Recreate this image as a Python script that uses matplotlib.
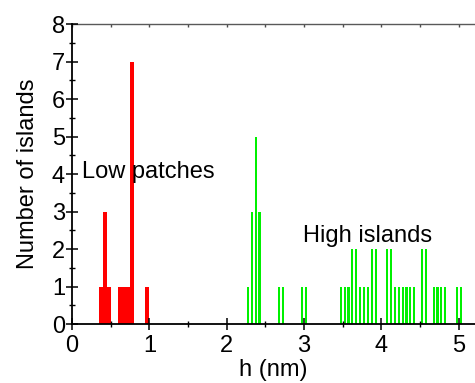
import numpy as np
import matplotlib
matplotlib.use('Agg')
import matplotlib.pyplot as plt
from matplotlib.ticker import MultipleLocator

# histogram bins (0.05 nm wide), given by bin centre and count
low_h   = [0.375, 0.425, 0.475, 0.625, 0.675, 0.725, 0.775, 0.975]
low_n   = [1, 3, 1, 1, 1, 1, 7, 1]
high_h  = [2.275, 2.325, 2.375, 2.425, 2.675, 2.725, 2.975, 3.025,
           3.475, 3.525, 3.575, 3.625, 3.675, 3.725, 3.775, 3.825, 3.875, 3.925,
           4.075, 4.125, 4.175, 4.225, 4.275, 4.325, 4.375, 4.425,
           4.525, 4.575, 4.675, 4.725, 4.775, 4.825, 4.975, 5.025]
high_n  = [1, 3, 5, 3, 1, 1, 1, 1,
           1, 1, 1, 2, 2, 1, 1, 1, 2, 2,
           2, 2, 1, 1, 1, 1, 1, 1,
           2, 2, 1, 1, 1, 1, 1, 1]
BIN = 0.05

plt.rcParams['font.family'] = ['Liberation Sans', 'DejaVu Sans']
fig = plt.figure(figsize=(4.75, 3.83), dpi=100)
ax = fig.add_axes([0.1516, 0.154, 0.8484, 0.783])

ax.bar(low_h, low_n, width=BIN, color='#ff0000', linewidth=0)
ax.bar(high_h, high_n, width=0.028, color='#00f000', linewidth=0)

ax.set_xlim(0, 5.21)
ax.set_ylim(0, 8)
ax.xaxis.set_major_locator(MultipleLocator(1))
ax.xaxis.set_minor_locator(MultipleLocator(0.5))
ax.yaxis.set_major_locator(MultipleLocator(1))
ax.yaxis.set_minor_locator(MultipleLocator(0.5))

ax.spines['right'].set_visible(False)
ax.spines['top'].set_visible(False)
for s in ('left', 'bottom'):
    ax.spines[s].set_linewidth(1.3)

ax.tick_params(which='major', direction='inout', length=8, width=1.1,
               labelsize=17, pad=1)
ax.tick_params(which='minor', direction='inout', length=5, width=1.0)
ax.tick_params(axis='x', which='major', pad=4)

# faint top frame with small inward ticks every 0.5
top = ax.secondary_xaxis('top')
top.set_xticks(np.arange(0, 5.5, 0.5))
top.tick_params(direction='in', length=2, width=1.0, colors='0.3', labeltop=False)
top.spines['top'].set_color('0.35')
top.spines['top'].set_linewidth(1.0)

ax.set_xlabel('h (nm)', fontsize=17, labelpad=1)
ax.set_ylabel('Number of islands', fontsize=17, labelpad=9)

ax.text(0.13, 4.05, 'Low patches', fontsize=17, va='center', ha='left')
ax.text(2.99, 2.35, 'High islands', fontsize=17, va='center', ha='left')

fig.savefig('out.png', dpi=100)
